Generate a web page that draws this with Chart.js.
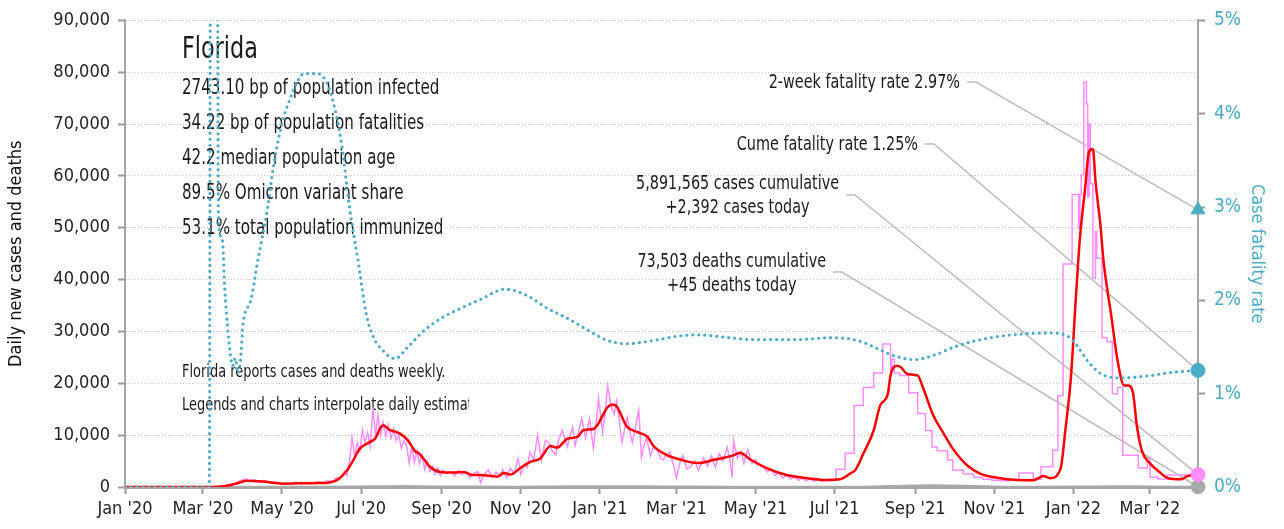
<!DOCTYPE html>
<html><head><meta charset="utf-8">
<script src="https://cdn.jsdelivr.net/npm/chart.js@4.4.1/dist/chart.umd.min.js"></script>
<style>html,body{margin:0;padding:0;background:#fff;}</style>
</head><body>
<canvas id="c" width="1284" height="529" style="display:block"></canvas>
<script>
// ---------- DATA ----------
const tickDays   = [0, 60, 121, 182, 244, 305, 366, 425, 486, 547, 609, 670, 731, 790];
const tickLabels = ["Jan '20","Mar '20","May '20","Jul '20","Sep '20","Nov '20","Jan '21","Mar '21","May '21","Jul '21","Sep '21","Nov '21","Jan '22","Mar '22"];
const lastDay = 827;

// 7-day average of new cases
const avgDays  = [0,60,75,85,94,106,122,135,150,163,171,176,181,189,193,197,199,204,208,212,218,224,226,230,235,243,253,261,268,274,287,292,297,305,312,320,328,333,341,349,353,361,364,372,376,379,387,395,403,407,418,428,438,443,453,469,474,482,495,510,526,541,551,559,563,569,577,582,588,590,595,598,603,611,615,623,631,638,649,659,672,688,700,708,713,721,725,729,733,736,740,743,746,748,752,754,760,765,770,773,777,780,784,790,797,804,814,819,824,827];
const avgCases = [0,0,100,600,1200,1050,650,700,750,1300,3200,5200,7400,8700,9400,11500,11900,11000,10700,10300,9000,6800,6600,5500,3900,2900,2800,2900,2300,2300,2000,2700,2400,3700,4800,5500,7900,7600,9300,9700,10900,11200,11900,15400,15900,15500,11600,10600,9600,8000,6100,5300,4700,4650,5200,6100,6600,5300,3600,2300,1700,1350,1500,2600,3300,6400,10900,15700,18000,21500,23400,23100,21800,21500,19200,13800,10300,7400,4200,2600,1800,1350,1300,2100,1700,3500,11500,21000,37000,48000,57600,64700,65200,59000,50000,44000,33300,24400,19600,19600,18000,11600,6800,4550,2950,1700,1500,2100,2300,2200];

// reported daily new cases (daily period)
const dailyDays  = [0,60,70,78,85,90,93,96,100,104,108,112,116,120,124,128,132,136,140,144,148,152,156,160,163,166,169,171,173,175,177,179,181,183,185,187,189,191,193,195,197,199,201,203,205,207,209,211,213,215,217,219,221,223,225,227,229,231,233,235,237,239,241,243,245,248,251,254,257,260,263,266,269,272,274,277,280,283,286,289,291,294,297,300,303,305,308,310,312,315,318,321,324,327,329,332,334,337,341,343,345,347,349,352,355,358,361,363,365,368,370,372,375,377,379,383,385,387,391,393,396,398,400,402,405,407,410,413,415,417,420,423,425,428,430,433,436,439,442,446,449,452,455,458,461,464,466,468,469,472,475,477,480,483,486,489,492,495,498,501,504,507,510,513,516,519,522,525,528,531,534,537,540,543];
const dailyCases = [0,0,50,200,800,1300,1600,1100,1400,900,1200,800,1000,600,800,500,900,600,900,700,1000,800,1200,1000,1800,1800,3000,2300,5000,9500,6000,8500,7000,11000,8600,10500,8000,15300,10000,13800,9900,12500,9800,12000,9400,11200,9000,10000,7500,9000,8000,4600,7700,4800,7000,4500,6200,3400,5000,3000,4000,2500,3700,2200,3300,2600,3000,2100,3200,2400,3000,1800,2700,3000,800,2500,3300,1800,2900,2000,3400,1800,3600,2600,5500,2400,4500,3800,6700,5200,10000,5100,9000,8500,7000,6200,9000,10900,7800,10000,11500,8000,10000,13200,9500,13200,7500,12000,17100,10600,14000,19500,15300,14000,16700,8600,11000,13400,8600,11000,14800,5700,8000,9600,6000,7500,7300,5500,5200,6200,6700,4000,1700,5000,6100,3500,3900,5000,3200,5600,4000,6000,3800,6500,5000,7700,5500,1800,9000,5500,6800,4600,7300,4500,5200,4200,3800,2900,3400,2200,2800,1700,2300,1500,2000,1300,1700,1200,1600,1100,1400,1100,1300,1200];

// reported new cases (weekly reporting period, held as steps)
const weeklyDays  = [543,548,555,562,569,577,584,590,591,593,597,604,611,617,622,626,634,638,646,654,661,668,675,682,689,700,706,715,719,723,730,735,736,737,739,741,742,743,744,746,748,749,753,757,761,765,769,775,781,788,790,796,803,815,822,827];
const weeklyCases = [1200,1500,3400,6500,15700,19200,22000,27600,22500,24700,22000,21500,18200,14200,10900,7700,7000,5200,3300,2500,1900,1500,1300,1200,1300,2700,1500,3900,7100,17600,43000,56400,49900,56400,60300,78100,73900,56000,70000,58500,40300,49300,44100,28800,28000,18000,19200,6100,6100,3650,5560,1900,1550,2300,2300,2392];

// new deaths
const deathDays = [0,70,90,110,150,180,200,215,240,270,300,330,366,400,430,480,530,570,600,620,640,670,700,740,760,790,827];
const deathVals = [0,0,40,50,40,100,160,180,110,80,70,100,150,130,80,60,40,60,250,350,300,120,40,80,160,100,45];

// case fatality rate (%)
const cfrDays = [0,30,65,66,71,72,75,77,81,83,85,87,89,91,97,102,110,114,121,127,133,138,148,154,160,167,173,180,186,191,199,208,218,230,245,258,274,293,310,325,342,358,372,387,407,428,441,466,484,518,544,557,569,582,592,608,623,641,667,692,713,726,734,742,752,767,788,808,827];
const cfrVals = [0,0,0,7,7,2.9,2.65,2.1,1.45,1.3,1.38,1.22,1.35,1.75,2.0,2.4,3.0,3.4,3.9,4.15,4.35,4.43,4.43,4.37,4.15,3.67,3.0,2.39,1.85,1.62,1.46,1.375,1.5,1.67,1.82,1.91,2.01,2.12,2.05,1.92,1.8,1.67,1.57,1.535,1.57,1.62,1.63,1.6,1.58,1.58,1.6,1.59,1.55,1.47,1.41,1.365,1.41,1.51,1.6,1.64,1.65,1.62,1.51,1.35,1.215,1.17,1.19,1.23,1.25];

const cfr2Week = 2.97, cfrCume = 1.25, casesToday = 2392, deathsToday = 45;

const stateName = "Florida";
const statLines = ["2743.10 bp of population infected","34.22 bp of population fatalities","42.2 median population age","89.5% Omicron variant share","53.1% total population immunized"];
const noteLines = ["Florida reports cases and deaths weekly.","Legends and charts interpolate daily estimates."];
const calloutTexts = [
  ["2-week fatality rate 2.97%"],
  ["Cume fatality rate 1.25%"],
  ["5,891,565 cases cumulative","+2,392 cases today"],
  ["73,503 deaths cumulative","+45 deaths today"]
];

// ---------- STYLE ----------
const FONT = "'DejaVu Sans Condensed','Liberation Sans Narrow','DejaVu Sans',sans-serif";
const TEAL = '#4bacc6', PINK = '#ff8cff', RED = '#ff0000', GREY = '#aaaaaa';
const SX = 0.8; // horizontal condensing of free text
Chart.defaults.font.family = FONT;
Chart.defaults.color = '#222';

const pts = (xs, ys) => xs.map((d, i) => ({x: d, y: ys[i]}));

function txt(ctx, t, x, y, align) {
  ctx.save();
  ctx.translate(x, y);
  ctx.scale(SX, 1);
  ctx.textAlign = align;
  ctx.fillText(t, 0, 0);
  ctx.restore();
}

const textPlugin = {
  id: 'texts',
  beforeDatasetsDraw(chart) {
    const ctx = chart.ctx;
    const xs = chart.scales.x, ys = chart.scales.y, y2 = chart.scales.y2;
    ctx.save();
    ctx.fillStyle = '#1a1a1a';
    ctx.textBaseline = 'middle';
    ctx.font = '31px ' + FONT;
    txt(ctx, stateName, 182, 50, 'left');
    ctx.font = '21px ' + FONT;
    statLines.forEach((t, i) => txt(ctx, t, 182, 89 + i * 35, 'left'));
    ctx.font = '18px ' + FONT;
    ctx.save();
    ctx.beginPath(); ctx.rect(0, 0, 469, 529); ctx.clip();
    noteLines.forEach((t, i) => txt(ctx, t, 182, 372 + i * 33, 'left'));
    ctx.restore();

    const ex = xs.getPixelForValue(lastDay);
    const targets = [
      {x: ex, y: y2.getPixelForValue(cfr2Week)},
      {x: ex, y: y2.getPixelForValue(cfrCume)},
      {x: ex, y: ys.getPixelForValue(casesToday)},
      {x: ex, y: ys.getPixelForValue(deathsToday)}
    ];
    const layout = [
      {right: 960, ty: 83, cy: 82},
      {right: 918, ty: 145, cy: 144},
      {right: 839, ty: 184, cy: 195},
      {right: 826, ty: 262, cy: 272}
    ];
    ctx.font = '20px ' + FONT;
    calloutTexts.forEach((lines, k) => {
      const L = layout[k];
      const w = Math.max(...lines.map(t => ctx.measureText(t).width)) * SX;
      const cx = L.right - w / 2;
      lines.forEach((t, i) => txt(ctx, t, cx, L.ty + i * 24, 'center'));
      ctx.strokeStyle = '#bdbdbd';
      ctx.lineWidth = 1.5;
      ctx.beginPath();
      ctx.moveTo(L.right + 7, L.cy);
      ctx.lineTo(L.right + 16, L.cy);
      ctx.lineTo(targets[k].x, targets[k].y);
      ctx.stroke();
    });
    ctx.restore();
  }
};

new Chart(document.getElementById('c'), {
  type: 'line',
  data: {
    datasets: [
      {data: [{x: lastDay, y: cfr2Week}], yAxisID: 'y2', showLine: false, pointStyle: 'triangle', pointRadius: 8, backgroundColor: TEAL, borderColor: TEAL, clip: false},
      {data: [{x: lastDay, y: cfrCume}], yAxisID: 'y2', showLine: false, pointStyle: 'circle', pointRadius: 7, backgroundColor: TEAL, borderColor: TEAL, clip: false},
      {data: [{x: lastDay, y: casesToday}], yAxisID: 'y', showLine: false, pointStyle: 'circle', pointRadius: 7, backgroundColor: PINK, borderColor: PINK, clip: false},
      {data: [{x: lastDay, y: deathsToday}], yAxisID: 'y', showLine: false, pointStyle: 'circle', pointRadius: 7, backgroundColor: GREY, borderColor: GREY, clip: false},
      {data: pts(cfrDays, cfrVals), yAxisID: 'y2', borderColor: TEAL, borderWidth: 3.2, borderDash: [0, 6], borderCapStyle: 'round', pointRadius: 0, cubicInterpolationMode: 'monotone'},
      {data: pts(avgDays, avgCases), yAxisID: 'y', borderColor: RED, borderWidth: 2.5, pointRadius: 0, cubicInterpolationMode: 'monotone'},
      {data: pts(dailyDays, dailyCases), yAxisID: 'y', borderColor: PINK, borderWidth: 1.5, pointRadius: 0, tension: 0},
      {data: pts(weeklyDays, weeklyCases), yAxisID: 'y', borderColor: PINK, borderWidth: 1.5, pointRadius: 0, stepped: 'after'},
      {data: pts(deathDays, deathVals), yAxisID: 'y', borderColor: GREY, borderWidth: 2, pointRadius: 0, cubicInterpolationMode: 'monotone'}
    ]
  },
  options: {
    responsive: false,
    animation: false,
    devicePixelRatio: 1,
    layout: {padding: {top: 18, bottom: 0, left: 0, right: 0}},
    plugins: {legend: {display: false}, tooltip: {enabled: false}},
    scales: {
      x: {
        type: 'linear', min: 0, max: lastDay,
        afterBuildTicks: s => { s.ticks = tickDays.map(v => ({value: v})); },
        afterFit: s => { s.height = 42; },
        ticks: {autoSkip: false, maxRotation: 0, padding: 5, font: {size: 18}, color: '#222',
                callback: (v, i) => tickLabels[i]},
        grid: {drawOnChartArea: false, drawTicks: true, tickLength: 7, tickColor: '#999', tickWidth: 2},
        border: {display: true, color: '#a6a6a6', width: 3}
      },
      y: {
        position: 'left', min: 0, max: 90000,
        afterFit: s => { s.width = 125; },
        ticks: {stepSize: 10000, padding: 8, font: {size: 18}, color: '#222',
                callback: v => v.toLocaleString('en-US')},
        grid: {color: '#c4c4c4', lineWidth: 1, tickLength: 7, tickColor: '#999', tickWidth: 2},
        border: {display: true, color: '#a6a6a6', width: 2, dash: [1, 2]},
        title: {display: true, text: 'Daily new cases and deaths', font: {size: 18}, color: '#111', padding: {top: 6, bottom: 4}}
      },
      y2: {
        position: 'right', min: 0, max: 5,
        afterFit: s => { s.width = 86; },
        ticks: {stepSize: 1, padding: 9, font: {size: 19}, color: TEAL, callback: v => v + '%'},
        grid: {drawOnChartArea: false, tickLength: 7, tickColor: '#999', tickWidth: 2},
        border: {display: true, color: '#a6a6a6', width: 2},
        title: {display: true, text: 'Case fatality rate', font: {size: 18}, color: TEAL, padding: {top: 17, bottom: 4}}
      }
    }
  },
  plugins: [textPlugin]
});
</script>
</body></html>
